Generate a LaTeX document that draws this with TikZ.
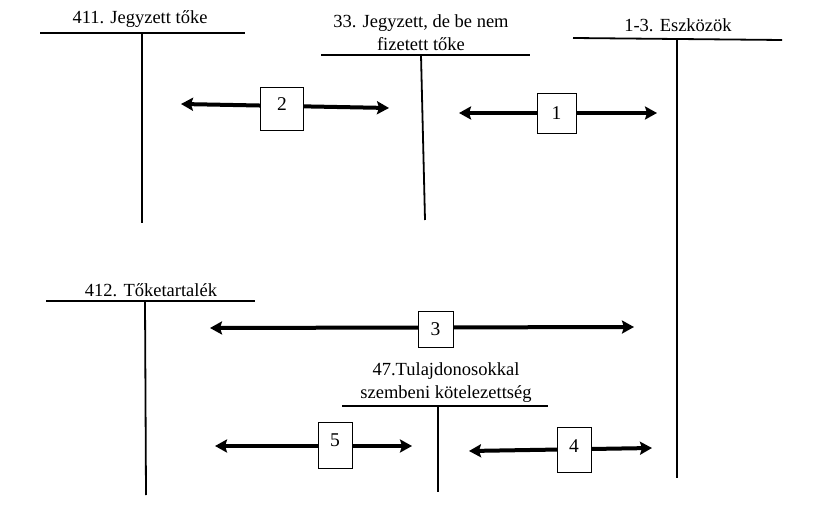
\documentclass[tikz,border=0pt]{standalone}
\usepackage{fontspec}
\setmainfont{Liberation Serif}
\usetikzlibrary{arrows.meta}
\begin{document}
\begin{tikzpicture}[x=1pt,y=-1pt,
  tline/.style={line width=1.8pt},
  flow/.style={line width=4pt,{Stealth[length=12pt,width=13pt,inset=2pt]}-{Stealth[length=12pt,width=13pt,inset=2pt]}},
  numbox/.style={draw,line width=0.8pt,fill=white,inner sep=0pt,font=\fontsize{19.5}{22}\selectfont},
  numtxt/.style={font=\fontsize{19.5}{22}\selectfont,inner sep=0pt},
  title/.style={font=\fontsize{18.5}{23}\selectfont,align=center,inner sep=0pt}]
\useasboundingbox (0,0) rectangle (814,521);
% T-account 411
\node[title] (t411) at (140,19) {411. Jegyzett tőke};
\coordinate (h411a) at (40,33); \coordinate (h411b) at (245,33);
\coordinate (v411a) at (142,33); \coordinate (v411b) at (142,223);
\draw[tline] (h411a) -- (h411b);
\draw[tline] (v411a) -- (v411b);
% T-account 33
\node[title] (t33) at (421,33) {33. Jegyzett, de be nem\\fizetett tőke};
\coordinate (h33a) at (321,55); \coordinate (h33b) at (530,55);
\coordinate (v33a) at (421,55); \coordinate (v33b) at (425,220);
\draw[tline] (h33a) -- (h33b);
\draw[tline] (v33a) -- (v33b);
% T-account 1-3
\node[title] (t13) at (678,25) {1-3. Eszközök};
\coordinate (h13a) at (573,38); \coordinate (h13b) at (782,40);
\coordinate (v13a) at (677,40); \coordinate (v13b) at (677,478);
\draw[tline] (h13a) -- (h13b);
\draw[tline] (v13a) -- (v13b);
% T-account 412
\node[title] (t412) at (151,290) {412. Tőketartalék};
\coordinate (h412a) at (46,301); \coordinate (h412b) at (255,301);
\coordinate (v412a) at (145,301); \coordinate (v412b) at (146,495);
\draw[tline] (h412a) -- (h412b);
\draw[tline] (v412a) -- (v412b);
% T-account 47
\node[title] (t47) at (446,383) {47.Tulajdonosokkal\\szembeni kötelezettség};
\coordinate (h47a) at (342,406); \coordinate (h47b) at (548,406);
\coordinate (v47a) at (438,406); \coordinate (v47b) at (438,492);
\draw[tline] (h47a) -- (h47b);
\draw[tline] (v47a) -- (v47b);
% arrow 2
\coordinate (a2l) at (181,104); \coordinate (a2r) at (389,108);
\draw[flow] (a2l) -- (a2r);
\node[numbox,minimum width=43pt,minimum height=43pt] (b2) at (282,108.5) {};
\node[numtxt] (n2) at (282,104) {2};
% arrow 1
\coordinate (a1l) at (459,113); \coordinate (a1r) at (657,113);
\draw[flow] (a1l) -- (a1r);
\node[numbox,minimum width=39pt,minimum height=40pt] (b1) at (556.5,113) {1};
% arrow 3
\coordinate (a3l) at (210,328); \coordinate (a3r) at (634,327);
\draw[flow] (a3l) -- (a3r);
\node[numbox,minimum width=35pt,minimum height=36pt] (b3) at (435.5,329) {3};
% arrow 5
\coordinate (a5l) at (215,446); \coordinate (a5r) at (412,446);
\draw[flow] (a5l) -- (a5r);
\node[numbox,minimum width=34pt,minimum height=46pt] (b5) at (335,445) {};
\node[numtxt] (n5) at (335,440) {5};
% arrow 4
\coordinate (a4l) at (469,451); \coordinate (a4r) at (652,448);
\draw[flow] (a4l) -- (a4r);
\node[numbox,minimum width=34pt,minimum height=45pt] (b4) at (574,449.5) {};
\node[numtxt] (n4) at (574,446) {4};
\end{tikzpicture}
\end{document}
